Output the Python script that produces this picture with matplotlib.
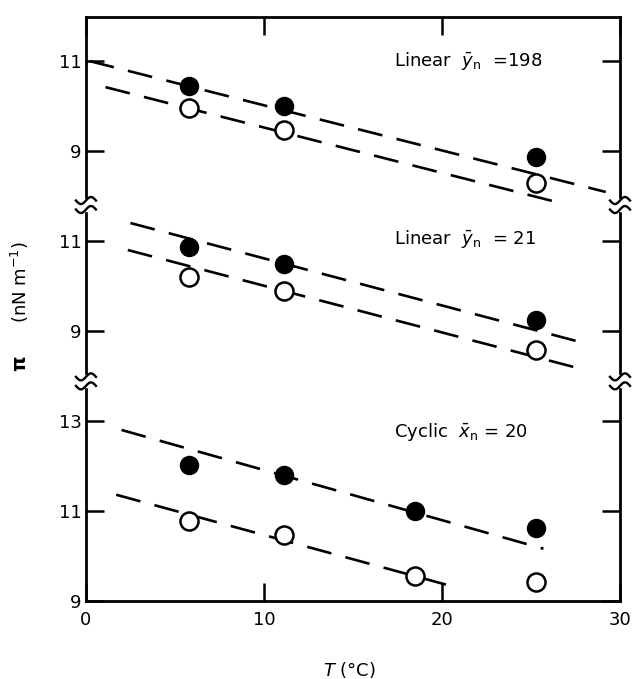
import numpy as np
import matplotlib.pyplot as plt
from matplotlib import transforms

# temperature of the measurements (deg C)
T_three = [5.8, 11.1, 25.3]
T_four = [5.8, 11.1, 18.5, 25.3]

# surface pressure pi (nN m-1)
lin198_filled = [10.44, 10.00, 8.87]
lin198_open = [9.96, 9.47, 8.29]
lin21_filled = [10.87, 10.48, 9.24]
lin21_open = [10.20, 9.88, 8.58]
cyc20_filled = [12.02, 11.80, 11.00, 10.62]
cyc20_open = [10.78, 10.47, 9.56, 9.42]

# dashed lines: end points (T) and (pi)
lin198_fit_T = [[0.2, 29.2], [1.1, 26.4]]
lin198_fit_pi = [[11.00, 8.09], [10.42, 7.87]]
lin21_fit_T = [[2.5, 28.0], [2.35, 27.4]]
lin21_fit_pi = [[11.40, 8.73], [10.80, 8.20]]
cyc20_fit_T = [[2.0, 25.7], [1.7, 20.9]]
cyc20_fit_pi = [[12.80, 10.16], [11.36, 9.29]]

panel_labels = [r"Linear  $\bar{y}_{\rm n}$  =198",
                r"Linear  $\bar{y}_{\rm n}$  = 21",
                r"Cyclic  $\bar{x}_{\rm n}$ = 20"]
ytick_vals = [[9, 11], [9, 11], [9, 11, 13]]
xticks = [0, 10, 20, 30]

# each panel is shifted up on the same axes (broken axis)
offsets = [10, 6, 0]
breaks = [13.88, 17.80]

fig = plt.figure(figsize=(6.32, 6.79), dpi=100)
ax = fig.add_axes([0.136, 0.115, 0.845, 0.86])

panels = [
    (T_three, lin198_filled, lin198_open, lin198_fit_T, lin198_fit_pi),
    (T_three, lin21_filled, lin21_open, lin21_fit_T, lin21_fit_pi),
    (T_four, cyc20_filled, cyc20_open, cyc20_fit_T, cyc20_fit_pi),
]
text_y = [21.0, 17.05, 12.75]

yt, yl = [], []
for (T, filled, opened, fitT, fitP), off, lab, ty, tv in zip(
        panels, offsets, panel_labels, text_y, ytick_vals):
    for xs, ys in zip(fitT, fitP):
        ax.plot(xs, np.array(ys) + off, color="black", lw=1.9,
                dashes=(9.5, 5.5), solid_capstyle="butt", zorder=2)
    ax.plot(T, np.array(filled) + off, "o", ms=13, color="black", zorder=3)
    ax.plot(T, np.array(opened) + off, "o", ms=13, mfc="white",
            mec="black", mew=1.8, zorder=3)
    ax.text(17.3, ty, lab, fontsize=13, va="center", ha="left")
    for v in tv:
        yt.append(v + off)
        yl.append(str(v))

ax.set_xlim(0, 30)
ax.set_ylim(9, 21.98)
ax.set_xticks(xticks)
ax.set_yticks(yt)
ax.set_yticklabels(yl)
ax.tick_params(direction="in", length=13, width=1.8, labelsize=13,
               top=True, right=True, pad=3)
ax.tick_params(axis="x", pad=7)
for s in ax.spines.values():
    s.set_linewidth(2)

# break marks on both vertical spines
trans = transforms.blended_transform_factory(ax.transAxes, ax.transData)
px_x = 1.0 / (0.845 * 632)
px_y = (21.98 - 9) / (0.86 * 679)
for b in breaks:
    for xa in (0.0, 1.0):
        ax.add_patch(plt.Rectangle((xa - 4 * px_x, b - 6 * px_y), 8 * px_x,
                                   12 * px_y, transform=trans, color="white",
                                   clip_on=False, zorder=5))
        u = np.linspace(-1, 1, 40)
        for dy in (-4.5, 4.5):
            ax.plot(xa + 10 * u * px_x,
                    b + (dy + 3.5 * np.sin(np.pi * u)) * px_y,
                    color="black", lw=1.7, transform=trans, clip_on=False,
                    zorder=6)

fig.text(20 / 632, 1 - 282 / 679, "(nN m$^{-1}$)", rotation=90, fontsize=13,
         ha="center", va="center")
fig.text(20 / 632, 1 - 363 / 679, "π", rotation=90, fontsize=14,
         fontweight="bold", ha="center", va="center")
fig.text(349 / 632, 1 - 670 / 679, r"$T$ (°C)", fontsize=13,
         ha="center", va="center")

fig.savefig("out.png", dpi=100)
